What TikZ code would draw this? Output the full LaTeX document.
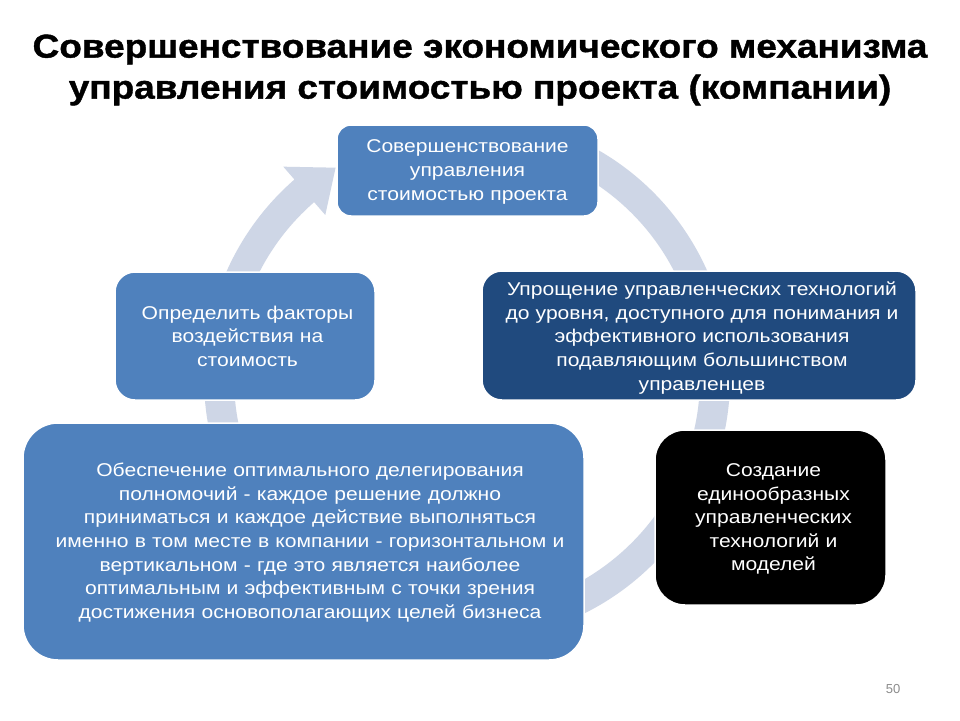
\documentclass[tikz,border=0pt]{standalone}
\usepackage{fontspec}
\setmainfont{Liberation Sans}
\newfontfamily\boxfont[FakeStretch=1.14]{Liberation Sans}
\newfontfamily\titlefont[FakeStretch=1.12,FakeBold=1.2]{Liberation Sans Bold}
\usetikzlibrary{calc}
\definecolor{ringc}{RGB}{206,214,230}
\definecolor{midblue}{RGB}{79,129,189}
\definecolor{darkblue}{RGB}{32,74,126}
\definecolor{pgnum}{RGB}{140,140,140}
\tikzset{
  boxbase/.style={draw=white, line width=1.5pt, inner sep=0pt},
  boxtext/.style={text=white, align=center, inner sep=0pt,
    font=\boxfont\fontsize{18.5}{23.6}\selectfont},
  titletext/.style={align=center, inner sep=0pt, font=\titlefont\fontsize{33}{41}\selectfont},
}
\begin{document}
\begin{tikzpicture}[x=1pt,y=1pt]
\useasboundingbox[fill=white] (0,0) rectangle (960,-720);
\coordinate (c) at (467,-378);
% circular arrow
\fill[ringc] ([shift={(c)}]62:263) arc[start angle=62, end angle=-229, radius=263]
  -- ([shift={(c)}]-229:280) -- ([shift={(c)}]-238:248) -- ([shift={(c)}]-229:216)
  -- ([shift={(c)}]-229:233) arc[start angle=-229, end angle=62, radius=233] -- cycle;
% title
\node[titletext] (title) at (480,-70) {Совершенствование экономического механизма\\управления стоимостью проекта (компании)};
% boxes
\node[boxbase, fill=midblue, rounded corners=14pt, minimum width=261pt, minimum height=91pt] (top) at (467.5,-170.5) {};
\node[boxtext, text width=250pt] (toptxt) at ([yshift=-1.5pt]top.center)
  {Совершенствование\\управления\\стоимостью проекта};
\node[boxbase, fill=midblue, rounded corners=20pt, minimum width=260pt, minimum height=128pt] (left) at (245,-336) {};
\node[boxtext, text width=250pt] (lefttxt) at ([xshift=2.5pt]left.center)
  {Определить факторы\\воздействия на\\стоимость};
\node[boxbase, fill=darkblue, rounded corners=20pt, minimum width=434pt, minimum height=129pt] (right) at (699,-335.5) {};
\node[boxtext, text width=420pt] (righttxt) at ([xshift=3pt,yshift=-2.5pt]right.center)
  {Упрощение управленческих технологий\\до уровня, доступного для понимания и\\эффективного использования\\подавляющим большинством\\управленцев};
\node[boxbase, fill=black, rounded corners=30pt, minimum width=231pt, minimum height=175pt] (black) at (770.5,-517.5) {};
\node[boxtext, text width=220pt] (blacktxt) at ([xshift=3pt,yshift=-1.5pt]black.center)
  {Создание\\единообразных\\управленческих\\технологий и\\моделей};
\node[boxbase, fill=midblue, rounded corners=35pt, minimum width=561pt, minimum height=237pt] (big) at (303.5,-541.5) {};
\node[boxtext, text width=550pt] (bigtxt) at ([xshift=6.5pt,yshift=-1pt]big.center)
  {Обеспечение оптимального делегирования\\полномочий - каждое решение должно\\приниматься и каждое действие выполняться\\именно в том месте в компании - горизонтальном и\\вертикальном - где это является наиболее\\оптимальным и эффективным с точки зрения\\достижения основополагающих целей бизнеса};
\node[text=pgnum, font=\fontsize{13}{15}\selectfont, inner sep=0pt] (pg) at (893,-689) {50};
\end{tikzpicture}
\end{document}
